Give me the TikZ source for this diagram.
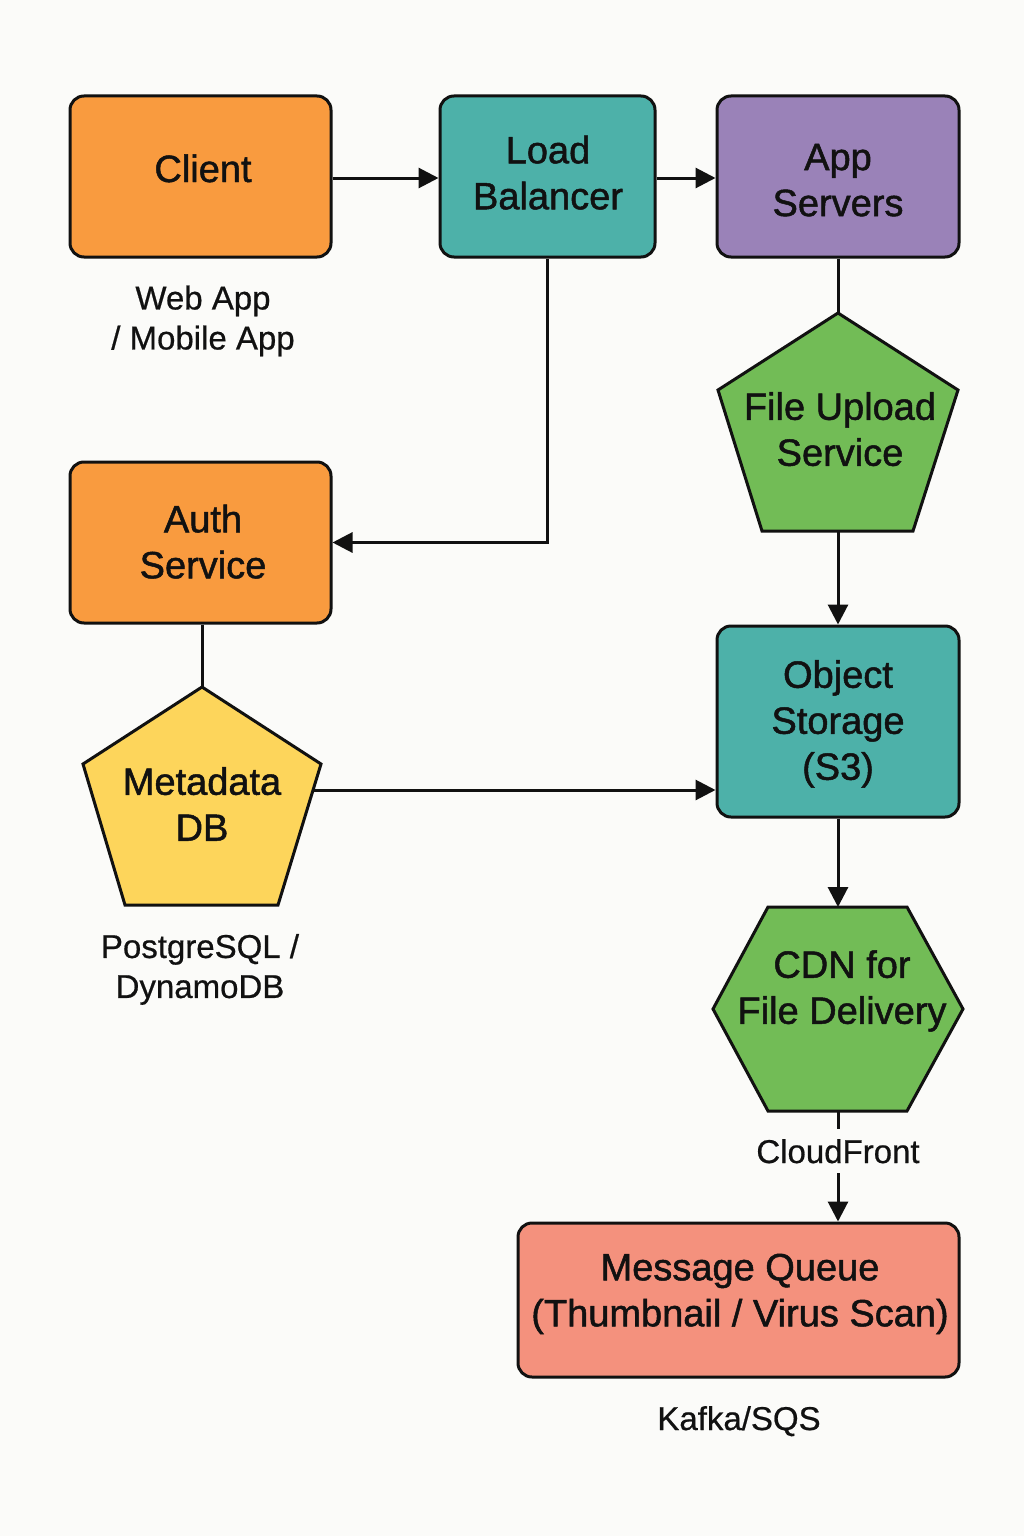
\documentclass[tikz,border=0pt]{standalone}
\usepackage{fontspec}
\setmainfont{Liberation Sans}
\newfontfamily\maintxtfont[FakeBold=1.3]{Liberation Sans}
\newfontfamily\subtxtfont[FakeBold=0.6]{Liberation Sans}
\usetikzlibrary{arrows.meta}
\definecolor{bgc}{HTML}{FBFBF9}
\definecolor{orangec}{HTML}{F99B3F}
\definecolor{tealc}{HTML}{4DB1A9}
\definecolor{purplec}{HTML}{9A82B8}
\definecolor{greenc}{HTML}{72BC56}
\definecolor{yellowc}{HTML}{FDD55B}
\definecolor{salmonc}{HTML}{F4917D}
\definecolor{inkc}{HTML}{111111}
\begin{document}
\begin{tikzpicture}[x=1pt,y=-1pt,
  boxnode/.style={draw=inkc, line width=3pt, rounded corners=14pt, inner sep=0pt},
  polyshape/.style={draw=inkc, line width=3pt, line join=miter},
  maintxt/.style={font=\maintxtfont\fontsize{38}{46}\selectfont, text=inkc, align=center, inner sep=0pt, text depth=0pt},
  subtxt/.style={font=\subtxtfont\fontsize{33}{40}\selectfont, text=inkc, align=center, inner sep=0pt, text depth=0pt},
  conn/.style={draw=inkc, line width=3pt},
  arr/.style={conn, -{Triangle[length=20pt,width=20pt]}}]
\fill[bgc] (0,0) rectangle (1024,1536);
\useasboundingbox (0,0) rectangle (1024,1536);

% rectangular boxes
\node[boxnode, fill=orangec, minimum width=261pt, minimum height=161pt] (client) at (200.5,176.5) {};
\node[boxnode, fill=tealc, minimum width=215pt, minimum height=161pt] (lb) at (547.5,176.5) {};
\node[boxnode, fill=purplec, minimum width=242pt, minimum height=161pt] (app) at (838,176.5) {};
\node[boxnode, fill=orangec, minimum width=261pt, minimum height=161pt] (auth) at (200.5,542.5) {};
\node[boxnode, fill=tealc, minimum width=242pt, minimum height=191pt] (obj) at (838,721.5) {};
\node[boxnode, fill=salmonc, minimum width=441pt, minimum height=154pt] (mq) at (738.5,1300) {};

% File Upload pentagon
\coordinate (fuT) at (838,313);
\coordinate (fuR) at (958,390);
\coordinate (fuBR) at (913,531);
\coordinate (fuB) at (838,531);
\coordinate (fuBL) at (762,531);
\coordinate (fuL) at (718,390);
\draw[polyshape, fill=greenc] (fuT) -- (fuR) -- (fuBR) -- (fuBL) -- (fuL) -- cycle;

% Metadata pentagon
\coordinate (mdT) at (202,687);
\coordinate (mdR) at (321,764);
\coordinate (mdBR) at (278,905);
\coordinate (mdBL) at (125,905);
\coordinate (mdL) at (83,764);
\coordinate (mdE) at (313,790);
\draw[polyshape, fill=yellowc] (mdT) -- (mdR) -- (mdBR) -- (mdBL) -- (mdL) -- cycle;

% CDN hexagon
\coordinate (cdnTL) at (768,907);
\coordinate (cdnTR) at (907,907);
\coordinate (cdnR) at (963,1009);
\coordinate (cdnBR) at (907,1111);
\coordinate (cdnBL) at (768,1111);
\coordinate (cdnL) at (713,1009);
\coordinate (cdnT) at (838,907);
\coordinate (cdnB) at (838,1111);
\draw[polyshape, fill=greenc] (cdnTL) -- (cdnTR) -- (cdnR) -- (cdnBR) -- (cdnBL) -- (cdnL) -- cycle;

% texts
\node[maintxt, anchor=base] (clientT) at (203,182) {Client};
\node[maintxt] (lbT) at (548,172.5) {Load\\Balancer};
\node[maintxt] (appT) at (838,180) {App\\Servers};
\node[maintxt] (authT) at (203,541.5) {Auth\\Service};
\node[maintxt] (fuText) at (840,429) {File Upload\\Service};
\node[maintxt] (objT) at (838,720) {Object\\Storage\\(S3)};
\node[maintxt] (mdText) at (202,804) {Metadata\\DB};
\node[maintxt] (cdnText) at (842,987) {CDN for\\File Delivery};
\node[maintxt] (mqT) at (740,1290) {Message Queue\\(Thumbnail / Virus Scan)};

\node[subtxt] (webT) at (203,317.5) {Web App\\/ Mobile App};
\node[subtxt] (pgT) at (200,966) {PostgreSQL /\\DynamoDB};
\node[subtxt, anchor=base, fill=bgc, inner ysep=10pt] (cfT) at (838,1163) {CloudFront};
\node[subtxt, anchor=base] (kafkaT) at (739,1430) {Kafka/SQS};

% connectors
\draw[arr] (client.east |- 0,178) -- (lb.west |- 0,178);
\draw[arr] (lb.east |- 0,178) -- (app.west |- 0,178);
\draw[arr] (lb.south) |- (auth.east);
\draw[conn] (app.south) -- (fuT);
\draw[arr] (fuB) -- (obj.north);
\draw[conn] (auth.south -| mdT) -- (mdT);
\draw[arr] (mdE) -- (mdE -| obj.west);
\draw[arr] (obj.south) -- (cdnT);
\draw[conn] (cdnB) -- (cfT.north);
\draw[arr] (cfT.south) -- (cfT.south |- mq.north);
\end{tikzpicture}
\end{document}
